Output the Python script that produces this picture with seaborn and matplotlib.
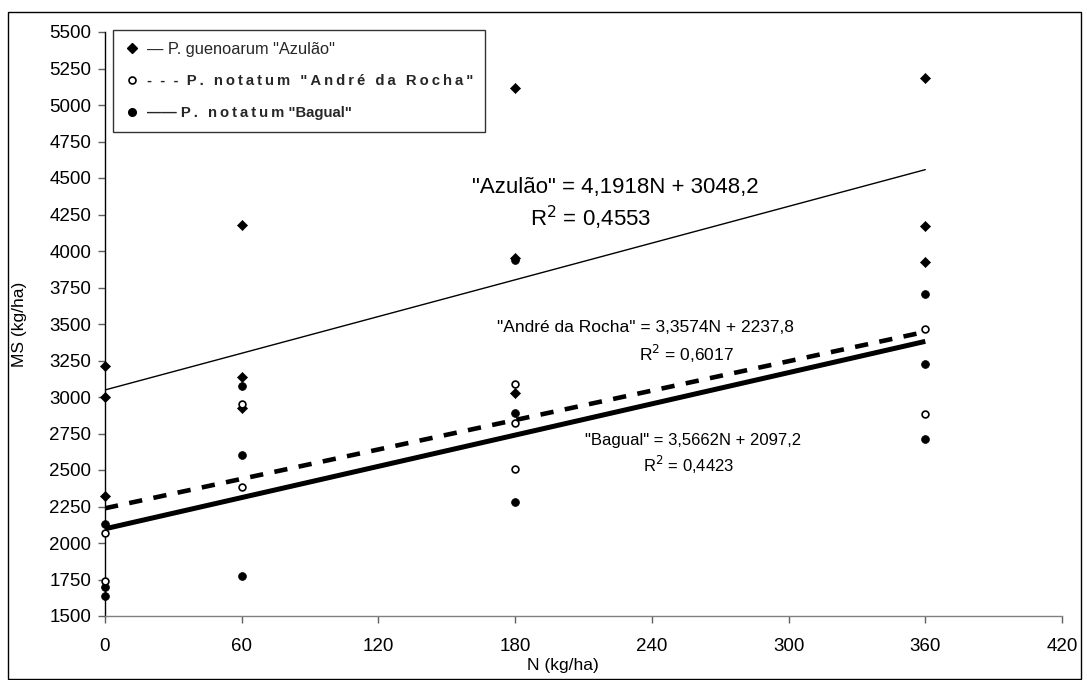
import numpy as np
import pandas as pd
import matplotlib
matplotlib.use("Agg")
import matplotlib.pyplot as plt
import seaborn as sns
from matplotlib.lines import Line2D
from matplotlib.patches import Rectangle

# ---------------- data ----------------
azulao_n = [0, 0, 0, 60, 60, 60, 180, 180, 180, 360, 360, 360]
azulao_ms = [3215, 3000, 2320, 4180, 3140, 2925, 5115, 3955, 3025, 5185, 4170, 3925]

andre_n = [0, 0, 60, 60, 180, 180, 180, 360, 360]
andre_ms = [2070, 1740, 2955, 2385, 3090, 2820, 2505, 3465, 2885]

bagual_n = [0, 0, 0, 60, 60, 60, 180, 180, 180, 360, 360, 360]
bagual_ms = [2130, 1700, 1635, 3075, 2605, 1775, 3940, 2890, 2280, 3705, 3225, 2715]

trend_names = ['"Azulão"', '"André da Rocha"', '"Bagual"']
trend_slope = [4.1918, 3.3574, 3.5662]
trend_intercept = [3048.2, 2237.8, 2097.2]
trend_r2 = [0.4553, 0.6017, 0.4423]
trend_x = [0, 360]

legend_prefix = ['\u2014 ', '-  -  -  ', '\u2014\u2014 ']
legend_species = ['P. guenoarum', 'P. notatum', 'P. notatum']
legend_cultivar = ['"Azulão"', '"André da Rocha"', '"Bagual"']

x_ticks = [0, 60, 120, 180, 240, 300, 360, 420]
y_ticks = list(range(1500, 5501, 250))

x_label = "N (kg/ha)"
y_label = "MS (kg/ha)"

# ---------------- style ----------------
sns.set_theme(style="white")
plt.rcParams['font.family'] = ['Liberation Sans', 'DejaVu Sans']

W, H = 1087, 680
fig = plt.figure(figsize=(W / 100, H / 100), dpi=100)
ax = fig.add_axes([105 / W, 1 - 616 / H, (1062 - 105) / W, (616 - 32) / H])
ax.set_facecolor('white')

# outer chart border
fig.patches.append(Rectangle((8 / W, 1 / H), (1081 - 8) / W, (680 - 12 - 1) / H,
                             transform=fig.transFigure, fill=False,
                             edgecolor='black', linewidth=1.0))

# ---------------- trend lines ----------------
tx = np.array(trend_x, dtype=float)
line_styles = [dict(lw=1.0, linestyle='-'),
               dict(lw=3.3, linestyle=(0, (2.9, 2.5)), solid_capstyle='butt', dash_capstyle='butt'),
               dict(lw=3.6, linestyle='-', solid_capstyle='butt')]
for i in range(3):
    ty = trend_intercept[i] + trend_slope[i] * tx
    sns.lineplot(x=tx, y=ty, ax=ax, color='black', **line_styles[i])

# ---------------- points ----------------
sns.scatterplot(x=azulao_n, y=azulao_ms, ax=ax, marker='D', s=26, color='black',
                edgecolor='black', linewidth=0.5, clip_on=False, zorder=5)
sns.scatterplot(x=bagual_n, y=bagual_ms, ax=ax, marker='o', s=32, color='black',
                edgecolor='black', linewidth=0.5, clip_on=False, zorder=6)
sns.scatterplot(x=andre_n, y=andre_ms, ax=ax, marker='o', s=24, color='white',
                edgecolor='black', linewidth=1.2, clip_on=False, zorder=7)

# ---------------- axes ----------------
ax.set_xlim(0, 420)
ax.set_ylim(1500, 5500)
ax.set_xticks(x_ticks)
ax.set_yticks(y_ticks)
ax.set_xticklabels([str(v) for v in x_ticks], fontsize=13.5)
ax.set_yticklabels([str(v) for v in y_ticks], fontsize=13.5)
ax.tick_params(axis='y', which='both', left=True, length=5, width=1, color='#606060',
               direction='out', pad=5, labelcolor='black')
ax.tick_params(axis='x', which='both', bottom=True, length=5, width=1, color='#606060',
               direction='out', pad=11, labelcolor='black')
for s in ['top', 'right']:
    ax.spines[s].set_visible(False)
ax.spines['left'].set_color('black')
ax.spines['left'].set_linewidth(1.0)
ax.spines['bottom'].set_color('#808080')
ax.spines['bottom'].set_linewidth(1.0)
ax.grid(False)

ax.set_xlabel(x_label, fontsize=12.5, color='black')
ax.set_ylabel(y_label, fontsize=12.5, color='black')
ax.xaxis.set_label_coords((563 - 105) / 957, -(658 - 616) / 584)
ax.yaxis.label.set_verticalalignment('center')
ax.yaxis.set_label_coords((20 - 105) / 957, 0.5)

# ---------------- equations ----------------
def fmt(v, d):
    return f"{v:.{d}f}".replace('.', ',')

eq_pos = [(224, 4438), (237, 3479), (258, 2705)]
r2_pos = [(213, 4226), (255, 3295), (256, 2534)]
eq_size = [16, 12.5, 12]
for i in range(3):
    eq = f"{trend_names[i]} = {fmt(trend_slope[i], 4)}N + {fmt(trend_intercept[i], 1)}"
    ax.text(eq_pos[i][0], eq_pos[i][1], eq, fontsize=eq_size[i], ha='center', va='center', color='black')
    ax.text(r2_pos[i][0], r2_pos[i][1], f"R$^2$ = {fmt(trend_r2[i], 4)}", fontsize=eq_size[i],
            ha='center', va='center', color='black')

# ---------------- legend ----------------
def spaced(s):
    return '\u2009'.join(list(s))

handles = [
    Line2D([], [], marker='D', color='black', linestyle='none', markersize=5),
    Line2D([], [], marker='o', markerfacecolor='white', markeredgecolor='black',
           markeredgewidth=1.2, linestyle='none', markersize=5),
    Line2D([], [], marker='o', color='black', linestyle='none', markersize=5.5),
]
labels = [legend_prefix[0] + legend_species[0] + ' ' + legend_cultivar[0],
          legend_prefix[1] + spaced(legend_species[1] + ' ' + legend_cultivar[1]),
          legend_prefix[2] + spaced(legend_species[2]) + ' ' + legend_cultivar[2]]
leg = ax.legend(handles, labels, loc='upper left',
                bbox_to_anchor=(113 / W, 1 - 30 / H), bbox_transform=fig.transFigure,
                borderaxespad=0, frameon=True, fancybox=False, shadow=False,
                fontsize=10.7, handlelength=1.0, handletextpad=0.5, labelspacing=1.2,
                borderpad=0.78)
leg.get_frame().set_edgecolor('black')
leg.get_frame().set_linewidth(1.0)
leg.get_frame().set_facecolor('white')
texts = leg.get_texts()
texts[0].set_fontsize(11.8)
for t in texts[1:]:
    t.set_fontweight('bold')
leg.set_zorder(10)

fig.savefig('out.png', dpi=100, facecolor='white')
